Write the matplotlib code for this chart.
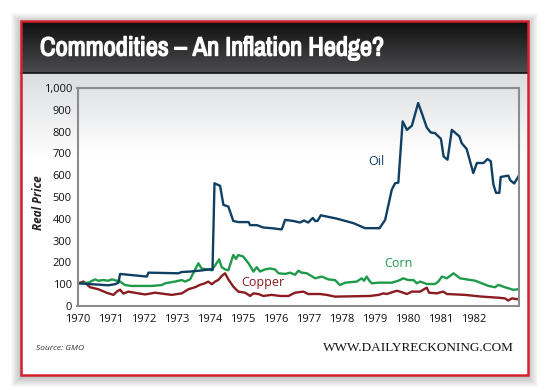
import numpy as np
import matplotlib.pyplot as plt
import matplotlib.patheffects as pe
from matplotlib import font_manager
from matplotlib.patches import Rectangle
from matplotlib.ticker import FuncFormatter

# values (year, real price)
oil_year = [1970.02, 1970.93, 1971.14, 1971.24, 1971.29, 1972.10, 1972.15, 1973.05, 1973.16,
            1973.41, 1973.76, 1974.02, 1974.09, 1974.15, 1974.32, 1974.42, 1974.57, 1974.72,
            1974.87, 1975.18, 1975.23, 1975.43, 1975.63, 1975.88, 1976.14, 1976.19, 1976.29,
            1976.54, 1976.74, 1976.86, 1976.99, 1977.13, 1977.20, 1977.27, 1977.37, 1977.85,
            1978.36, 1978.71, 1979.15, 1979.32, 1979.52, 1979.62, 1979.72, 1979.85, 1979.98,
            1980.13, 1980.32, 1980.43, 1980.58, 1980.70, 1980.83, 1981.01, 1981.09, 1981.21,
            1981.34, 1981.57, 1981.64, 1981.79, 1981.99, 1982.10, 1982.30, 1982.42, 1982.52,
            1982.60, 1982.68, 1982.78, 1982.82, 1983.05, 1983.11, 1983.23, 1983.36]
oil_price = [104, 95, 100, 107, 147, 135, 153, 150, 156,
             158, 163, 169, 165, 563, 551, 464, 456, 390,
             385, 385, 371, 371, 360, 357, 352, 352, 395,
             390, 383, 392, 383, 404, 390, 390, 416, 401,
             380, 357, 357, 395, 533, 563, 566, 847, 808,
             827, 931, 885, 819, 796, 793, 767, 686, 671,
             808, 778, 747, 720, 610, 656, 656, 674, 664,
             557, 519, 519, 592, 598, 577, 562, 595]

corn_year = [1970.02, 1970.33, 1970.53, 1970.63, 1970.78, 1970.93, 1971.04, 1971.19, 1971.29,
             1971.44, 1971.64, 1972.25, 1972.55, 1972.65, 1972.95, 1973.16, 1973.26, 1973.41,
             1973.66, 1973.76, 1973.92, 1974.07, 1974.29, 1974.37, 1974.47, 1974.57, 1974.72,
             1974.80, 1974.87, 1975.02, 1975.18, 1975.33, 1975.43, 1975.53, 1975.68, 1975.83,
             1975.98, 1976.09, 1976.29, 1976.44, 1976.59, 1976.69, 1976.79, 1976.95, 1977.20,
             1977.40, 1977.60, 1977.80, 1977.95, 1978.11, 1978.46, 1978.61, 1978.68, 1978.76,
             1978.86, 1978.92, 1979.12, 1979.52, 1979.72, 1979.87, 1980.02, 1980.18, 1980.28,
             1980.38, 1980.58, 1980.83, 1980.93, 1981.04, 1981.19, 1981.39, 1981.59, 1981.79,
             1982.05, 1982.25, 1982.45, 1982.65, 1982.75, 1982.95, 1983.21, 1983.34]
corn_price = [104, 107, 122, 116, 119, 116, 122, 116, 112,
              96, 92, 92, 96, 104, 112, 119, 112, 122,
              196, 172, 168, 164, 214, 178, 168, 164, 234,
              216, 234, 227, 196, 158, 178, 158, 168, 172,
              168, 150, 147, 153, 143, 162, 153, 150, 127,
              135, 122, 119, 96, 107, 112, 127, 116, 135,
              112, 104, 107, 107, 116, 127, 119, 119, 104,
              112, 101, 101, 112, 135, 127, 150, 127, 122,
              116, 104, 92, 86, 97, 86, 74, 77]

copper_year = [1970.02, 1970.18, 1970.28, 1970.38, 1970.63, 1970.88, 1971.09, 1971.19, 1971.29,
               1971.39, 1971.54, 1971.84, 1972.05, 1972.35, 1972.65, 1972.85, 1973.16, 1973.36,
               1973.56, 1973.71, 1973.86, 1973.96, 1974.07, 1974.17, 1974.27, 1974.37, 1974.47,
               1974.57, 1974.72, 1974.87, 1975.08, 1975.23, 1975.33, 1975.48, 1975.63, 1975.88,
               1976.14, 1976.39, 1976.59, 1976.84, 1976.99, 1977.35, 1977.55, 1977.80, 1978.86,
               1979.12, 1979.27, 1979.37, 1979.67, 1979.77, 1979.98, 1980.13, 1980.38, 1980.58,
               1980.65, 1980.88, 1981.08, 1981.19, 1981.74, 1982.25, 1982.75, 1982.95, 1983.05,
               1983.16, 1983.34]
copper_price = [104, 112, 100, 86, 77, 61, 51, 66, 75,
                57, 66, 58, 53, 61, 55, 51, 58, 77,
                86, 97, 104, 112, 100, 112, 120, 138, 150,
                122, 89, 66, 61, 46, 58, 55, 46, 51,
                46, 46, 61, 66, 55, 55, 51, 43, 46,
                51, 58, 55, 70, 66, 55, 66, 66, 84,
                61, 58, 66, 55, 51, 43, 38, 35, 25,
                35, 31]

years = list(range(1970, 1983))
yticks = list(range(0, 1001, 100))

# a condensed face for the title, if one is installed (thickened with a stroke below)
names = sorted({f.name for f in font_manager.fontManager.ttflist})
narrow = [n for n in names if 'Narrow' in n or 'Condensed' in n]
if narrow:
    title_font, title_size, title_stroke = narrow[0], 19, 1.0
else:
    title_font, title_size, title_stroke = 'Roboto', 14, 0.3

W, H = 550, 391
fig = plt.figure(figsize=(W / 100, H / 100), dpi=100)
fig.patch.set_facecolor('white')

# background layer in pixel coordinates
bg = fig.add_axes([0, 0, 1, 1])
bg.axis('off')


def vgrad(top, bottom, stop, n=200):
    t = np.linspace(0, 1, n)
    f = np.clip(t / stop, 0, 1)[:, None]
    top = np.array(top)
    bottom = np.array(bottom)
    rgb = top + (bottom - top) * f
    return rgb[:, None, :]


# drop shadow
for k in range(1, 12):
    bg.add_patch(Rectangle((21 - k + 1, 21 - k + 3), 507 + 2 * k - 2, 354 + 2 * k - 2,
                           facecolor='black', alpha=0.022, lw=0, zorder=1))
bg.add_patch(Rectangle((21, 21), 507, 354, facecolor='white', lw=0, zorder=2))
# card body gradient
bg.imshow(vgrad([0.86, 0.865, 0.875], [1, 1, 1], 0.28), extent=(21, 528, 375, 73),
          aspect='auto', interpolation='bicubic', zorder=3)
# title bar
bg.imshow(vgrad([0.06, 0.06, 0.06], [0.30, 0.30, 0.31], 1.0), extent=(21, 528, 73, 21),
          aspect='auto', interpolation='bicubic', zorder=3)
bg.plot([21, 528], [73, 73], color='#111111', lw=1.2, zorder=4)
# plot area gradient
bg.imshow(vgrad([0.885, 0.89, 0.9], [1, 1, 1], 0.3), extent=(77.5, 518.5, 306, 88),
          aspect='auto', interpolation='bicubic', zorder=4)
bg.add_patch(Rectangle((21, 21), 507, 354, facecolor='none', edgecolor='#d3212b', lw=1.8, zorder=5))
bg.set_xlim(0, W)
bg.set_ylim(H, 0)

bg.text(40, 48, 'Commodities \u2013 An Inflation Hedge?', color='white', fontsize=title_size,
        fontweight='bold', family=title_font, va='center', ha='left', zorder=6,
        path_effects=[pe.withStroke(linewidth=title_stroke, foreground='white')])
bg.text(38, 203, 'Real Price', rotation=90, fontsize=8.5, style='italic', fontweight='bold',
        family='Open Sans', color='#222222', va='center', ha='center', zorder=6)
bg.text(36, 349, 'Source: GMO', fontsize=6, style='italic', family='Open Sans',
        color='#333333', va='center', ha='left', zorder=6)
bg.text(514, 348, 'WWW.DAILYRECKONING.COM', fontsize=9.5, family='Liberation Serif',
        color='#111111', va='center', ha='right', zorder=6)

ax = fig.add_axes([77.5 / W, 85 / H, 441 / W, 218 / H])
ax.set_facecolor('none')
ax.plot(copper_year, copper_price, color='#8a1c20', lw=1.7)
ax.plot(corn_year, corn_price, color='#1e9a4a', lw=1.7)
ax.plot(oil_year, oil_price, color='#0f3f62', lw=1.7)

ax.text(1979.05, 661, 'Oil', color='#0f3f62', fontsize=9, family='Open Sans', ha='center', va='center')
ax.text(1979.71, 193, 'Corn', color='#1e9a4a', fontsize=9, family='Open Sans', ha='center', va='center')
ax.text(1975.62, 106, 'Copper', color='#8a1c20', fontsize=9, family='Open Sans', ha='center', va='center')

ax.set_xlim(1970, 1983.36)
ax.set_ylim(0, 1000)
ax.set_xticks(years)
ax.set_yticks(yticks)
ax.yaxis.set_major_formatter(FuncFormatter(lambda v, p: f'{int(v):,}'))
ax.tick_params(length=0, labelsize=8, colors='#111111')
ax.tick_params(axis='x', pad=6)
ax.tick_params(axis='y', pad=4)
for lab in ax.get_xticklabels() + ax.get_yticklabels():
    lab.set_family('Open Sans')
for s in ax.spines.values():
    s.set_color('#8c8c8c')
    s.set_linewidth(1.5)

fig.savefig('out.png', dpi=100)
